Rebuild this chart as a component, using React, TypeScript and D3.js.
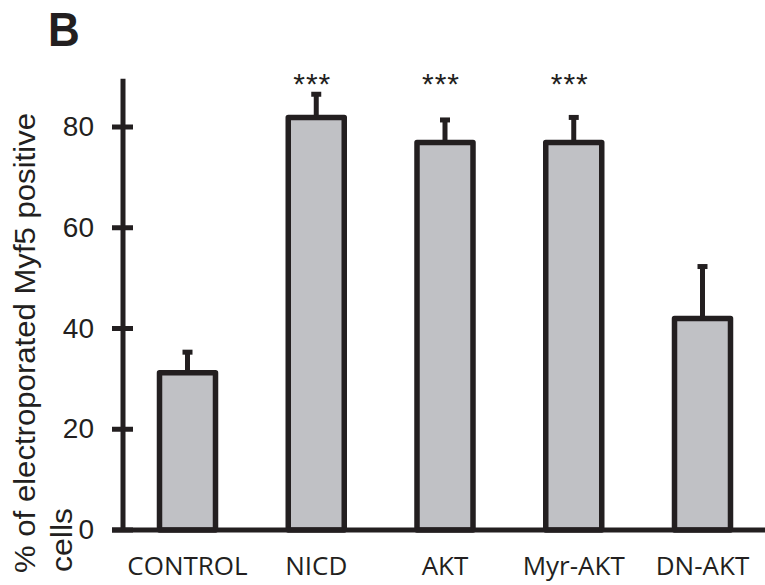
import React from "react";
import * as d3 from "d3";

const categories = ["CONTROL", "NICD", "AKT", "Myr-AKT", "DN-AKT"];
const means = [31.2, 81.9, 76.9, 76.9, 42.0];
const errors = [4.1, 4.6, 4.5, 5.0, 10.3];
const significance = ["", "***", "***", "***", ""];
const yTicks = [0, 20, 40, 60, 80];
const yLabelLines = ["% of electroporated Myf5 positive", "cells"];
const panelLabel = "B";

const W = 765;
const H = 585;
const INK = "#231f20";
const FILL = "#c0c1c5";

export default function App() {
  const x = d3.scalePoint<string>().domain(categories).range([187.5, 702.5]);
  const y = d3.scaleLinear().domain([0, 80]).range([530, 127]);
  const barW = 56;
  const axisX = 123;
  const axisTop = y(89.6);

  return (
    <svg
      width={W}
      height={H}
      style={{ position: "absolute", left: 0, top: 0, background: "#fff" }}
      fontFamily="'Liberation Sans', Arial, sans-serif"
    >
      <rect x={0} y={0} width={W} height={H} fill="#fff" />
      <text
        transform="translate(48,46) scale(1,1.1)"
        fontSize={44}
        fontWeight="bold"
        fill={INK}
      >
        {panelLabel}
      </text>

      {categories.map((c, i) => {
        const cx = x(c) as number;
        const top = y(means[i]);
        const errTop = y(means[i] + errors[i]);
        return (
          <g key={c}>
            <line x1={cx} x2={cx} y1={top} y2={errTop} stroke={INK} strokeWidth={5} />
            <line x1={cx - 5} x2={cx + 5} y1={errTop} y2={errTop} stroke={INK} strokeWidth={5} />
            <rect
              x={cx - barW / 2}
              y={top}
              width={barW}
              height={y(0) - top}
              fill={FILL}
              stroke={INK}
              strokeWidth={5.5}
              strokeLinejoin="round"
            />
            {significance[i] && (
              <text
                x={cx - 4}
                y={94}
                textAnchor="middle"
                fontSize={30}
                letterSpacing={1}
                fill={INK}
              >
                {significance[i]}
              </text>
            )}
            <text
              x={cx}
              y={575}
              textAnchor="middle"
              fontSize={26}
              fontFamily="'Open Sans', sans-serif"
              fill={INK}
            >
              {c}
            </text>
          </g>
        );
      })}

      <line x1={axisX} x2={axisX} y1={axisTop} y2={y(0)} stroke={INK} strokeWidth={5} />
      <line x1={112} x2={W} y1={y(0)} y2={y(0)} stroke={INK} strokeWidth={5} />
      {yTicks.map((t) => (
        <g key={t}>
          <line x1={112} x2={133} y1={y(t)} y2={y(t)} stroke={INK} strokeWidth={5} />
          <text x={94} y={y(t) + 9} textAnchor="end" fontSize={28} fill={INK}>
            {t}
          </text>
        </g>
      ))}

      <text
        transform="translate(35,573) rotate(-90)"
        fontSize={30}
        textLength={460}
        lengthAdjust="spacingAndGlyphs"
        fill={INK}
      >
        {yLabelLines[0]}
      </text>
      <text
        transform="translate(72,572) rotate(-90)"
        fontSize={29}
        textLength={64}
        lengthAdjust="spacingAndGlyphs"
        fill={INK}
      >
        {yLabelLines[1]}
      </text>
    </svg>
  );
}
